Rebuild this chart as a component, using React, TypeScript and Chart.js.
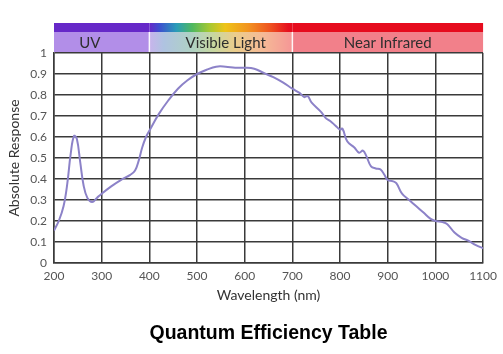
import React, { useEffect, useRef } from "react";
import { Chart, registerables } from "chart.js";

Chart.register(...registerables);

const wavelengths = [
  200, 210, 220, 228, 235, 242, 248, 255, 262, 270, 280, 290, 300, 320, 340, 360, 370, 378, 385, 393,
  400, 420, 440, 460, 480, 500, 520, 540, 560, 580, 600, 620, 640, 660, 680, 700, 715, 725, 732, 740,
  760, 770, 780, 790, 800, 805, 815, 830, 840, 848, 855, 865, 875, 885, 893, 900, 910, 918, 930, 945,
  960, 975, 990, 1000, 1015, 1025, 1040, 1055, 1070, 1085, 1100,
];
const response = [
  0.155, 0.2, 0.27, 0.38, 0.52, 0.605, 0.59, 0.48, 0.37, 0.31, 0.29, 0.31, 0.33, 0.365, 0.395, 0.42, 0.44, 0.49, 0.55, 0.6,
  0.63, 0.71, 0.775, 0.83, 0.87, 0.9, 0.92, 0.935, 0.935, 0.93, 0.93, 0.925, 0.905, 0.885, 0.86, 0.83, 0.81, 0.79, 0.795, 0.765,
  0.72, 0.69, 0.675, 0.655, 0.635, 0.64, 0.58, 0.55, 0.525, 0.535, 0.51, 0.46, 0.45, 0.445, 0.42, 0.395, 0.39, 0.38, 0.33, 0.3,
  0.27, 0.24, 0.21, 0.2, 0.195, 0.185, 0.145, 0.12, 0.105, 0.085, 0.07,
];

const bandEdges = [200, 400, 700, 1100];
const bandLabels = ["UV", "Visible Light", "Near Infrared"];
const bandLabelAt = [275, 560, 900];

const chartTitle = "Quantum Efficiency Table";
const xTitle = "Wavelength (nm)";
const yTitle = "Absolute Response";

const FONT = "Lato, 'Open Sans', sans-serif";

const bandsPlugin = {
  id: "spectrumBands",
  afterDraw(chart: any) {
    const { ctx, chartArea } = chart;
    const xs = chart.scales.x;
    const px = bandEdges.map((v) => xs.getPixelForValue(v));
    const stripTop = chartArea.top - 30;
    const stripH = 9;
    const bandTop = stripTop + stripH;
    const bandH = 20;
    ctx.save();
    // strip
    ctx.fillStyle = "#6628c8";
    ctx.fillRect(px[0], stripTop, px[1] - px[0], stripH);
    const g1 = ctx.createLinearGradient(px[1], 0, px[2], 0);
    g1.addColorStop(0, "#6628c8");
    g1.addColorStop(0.07, "#3d4fcf");
    g1.addColorStop(0.19, "#2a9cb8");
    g1.addColorStop(0.3, "#4fb860");
    g1.addColorStop(0.42, "#a6c832");
    g1.addColorStop(0.53, "#eec418");
    g1.addColorStop(0.69, "#f29420");
    g1.addColorStop(0.85, "#ee5020");
    g1.addColorStop(0.97, "#e6101e");
    g1.addColorStop(1, "#e60c1e");
    ctx.fillStyle = g1;
    ctx.fillRect(px[1], stripTop, px[2] - px[1], stripH);
    ctx.fillStyle = "#e60c1e";
    ctx.fillRect(px[2], stripTop, px[3] - px[2], stripH);
    // lower bands
    ctx.fillStyle = "#b28ee8";
    ctx.fillRect(px[0], bandTop, px[1] - px[0], bandH);
    const g2 = ctx.createLinearGradient(px[1], 0, px[2], 0);
    g2.addColorStop(0, "#c8b4ec");
    g2.addColorStop(0.1, "#afc3e1");
    g2.addColorStop(0.3, "#afd2c3");
    g2.addColorStop(0.45, "#c8d7a0");
    g2.addColorStop(0.6, "#ebcd8c");
    g2.addColorStop(0.8, "#f5b996");
    g2.addColorStop(1, "#f59696");
    ctx.fillStyle = g2;
    ctx.fillRect(px[1], bandTop, px[2] - px[1], bandH);
    ctx.fillStyle = "#f2808a";
    ctx.fillRect(px[2], bandTop, px[3] - px[2], bandH);
    // separators
    ctx.strokeStyle = "rgba(255,255,255,0.9)";
    ctx.lineWidth = 1.5;
    [px[1], px[2]].forEach((x) => {
      ctx.beginPath();
      ctx.moveTo(x, bandTop);
      ctx.lineTo(x, bandTop + bandH);
      ctx.stroke();
    });
    // labels
    ctx.fillStyle = "#2e2e2e";
    ctx.font = `15px ${FONT}`;
    ctx.textAlign = "center";
    ctx.textBaseline = "middle";
    bandLabels.forEach((t, i) => {
      ctx.fillText(t, xs.getPixelForValue(bandLabelAt[i]), bandTop + bandH / 2 + 1);
    });
    // bottom title, centred on the plot area
    ctx.fillStyle = "#000";
    ctx.font = `bold 19.5px 'Liberation Sans', Arial, sans-serif`;
    ctx.fillText(chartTitle, (chartArea.left + chartArea.right) / 2, chart.height - 20);
    ctx.restore();
  },
};

export default function App() {
  const ref = useRef<HTMLCanvasElement | null>(null);
  useEffect(() => {
    document.body.style.margin = "0";
    const canvas = ref.current;
    if (!canvas) return;
    const chart = new Chart(canvas, {
      type: "line",
      data: {
        datasets: [
          {
            data: wavelengths.map((w, i) => ({ x: w, y: response[i] })),
            borderColor: "#8c82c8",
            borderWidth: 2,
            pointRadius: 0,
            tension: 0.4,
            fill: false,
          },
        ],
      },
      options: {
        animation: false,
        responsive: false,
        layout: { padding: { top: 53, right: 18, left: 0, bottom: 43.4 } },
        plugins: {
          legend: { display: false },
          tooltip: { enabled: false },
          title: { display: false },
        },
        scales: {
          x: {
            type: "linear",
            min: 200,
            max: 1100,
            afterFit: (s: any) => {
              s.height = 47.6;
            },
            ticks: {
              stepSize: 100,
              padding: 6,
              color: "#555",
              font: { family: FONT, size: 12 },
              callback: (v: any) => String(v),
            },
            grid: { color: "#3a3a3a", lineWidth: 1.5, drawTicks: false },
            border: { color: "#3a3a3a", width: 1.5 },
            title: {
              display: true,
              text: xTitle,
              color: "#333",
              font: { family: FONT, size: 14 },
              padding: { top: 0, bottom: 7 },
            },
          },
          y: {
            min: 0,
            max: 1,
            afterFit: (s: any) => {
              s.width = 54;
            },
            ticks: {
              stepSize: 0.1,
              padding: 7,
              color: "#555",
              font: { family: FONT, size: 12 },
              callback: (v: any) => String(Math.round(Number(v) * 10) / 10),
            },
            grid: { color: "#3a3a3a", lineWidth: 1.5, drawTicks: false },
            border: { color: "#3a3a3a", width: 1.5 },
            title: {
              display: true,
              text: yTitle,
              color: "#333",
              font: { family: FONT, size: 14 },
              padding: { top: 6, bottom: 0 },
            },
          },
        },
      },
      plugins: [bandsPlugin],
    });
    return () => chart.destroy();
  }, []);
  return (
    <div style={{ position: "absolute", left: 0, top: 0, width: 503, height: 354, background: "#fff" }}>
      <canvas ref={ref} width={503} height={354} />
    </div>
  );
}
